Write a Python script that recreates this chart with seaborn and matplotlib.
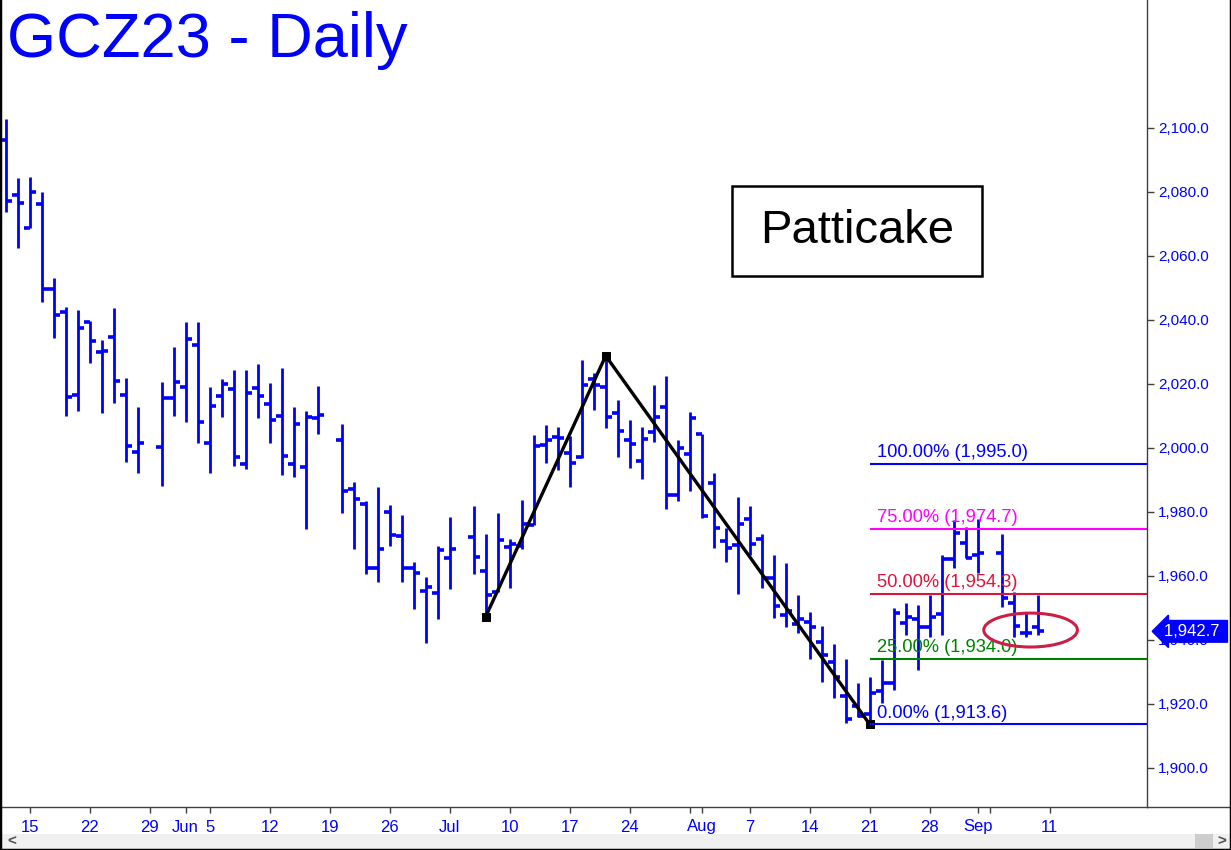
import numpy as np
import pandas as pd
import seaborn as sns
import matplotlib.pyplot as plt
from matplotlib.patches import Ellipse, Rectangle
from matplotlib.lines import Line2D
from matplotlib.transforms import blended_transform_factory

sns.set_theme(style="white")
plt.rcParams["font.family"] = ["Liberation Sans", "DejaVu Sans"]

BLUE = "#0000FF"

# daily OHLC, GCZ23, May 11 - Sep 8 2023 (holidays have no bar)
holidays = ["2023-05-29", "2023-06-19", "2023-07-04", "2023-09-04"]
opens = [2096.3, 2079.1, 2068.6, 2076.1, 2049.6, 2042.5, 2016.5, 2039.4, 2029.9, 2034.6, 2016.5, 1998.8,
         2000.2, 2015.5, 2019.0, 2032.1, 2001.5, 2016.3, 2018.4, 1995.0, 2018.8, 2013.8, 2010.0, 1994.9,
         1994.1, 2009.3, 2002.5, 1987.2, 1982.6, 1962.4, 1980.0, 1972.5, 1962.4, 1955.2, 1954.6, 1965.5,
         1972.1, 1961.6, 1954.9, 1969.0, 1969.4, 1976.0, 2000.9, 2003.5, 1998.3, 1997.3, 2021.5, 2019.2,
         2011.0, 2002.5, 1995.9, 2005.1, 2012.8, 1985.3, 1998.1, 2004.4, 1989.2, 1970.9, 1969.7, 1977.8,
         1971.5, 1959.4, 1947.8, 1944.9, 1945.5, 1939.3, 1933.0, 1922.5, 1919.4, 1917.0, 1924.1, 1926.7,
         1945.2, 1946.5, 1944.2, 1948.1, 1965.3, 1970.4, 1966.6, 1967.1, 1951.5, 1942.3, 1944.0]
highs = [2102.7, 2084.3, 2084.6, 2079.9, 2053.0, 2044.0, 2043.1, 2039.6, 2033.8, 2043.6, 2021.8, 2012.7,
         2020.5, 2031.5, 2039.4, 2039.4, 2019.0, 2021.5, 2024.4, 2024.4, 2026.3, 2020.2, 2024.9, 2012.7,
         2011.5, 2019.4, 2007.4, 1989.3, 1983.5, 1987.7, 1982.1, 1979.1, 1964.3, 1959.6, 1969.5, 1978.3,
         1981.9, 1973.1, 1979.6, 1971.5, 1983.8, 2004.1, 2007.2, 2006.5, 2003.8, 2027.5, 2023.5, 2028.8,
         2015.0, 2008.7, 2006.5, 2019.7, 2022.5, 2002.5, 2011.3, 2004.4, 1992.3, 1974.9, 1984.6, 1982.0,
         1973.0, 1966.4, 1964.0, 1953.9, 1948.6, 1944.5, 1938.7, 1934.0, 1926.7, 1928.3, 1933.8, 1949.9,
         1951.5, 1951.0, 1954.1, 1966.6, 1977.5, 1975.2, 1977.7, 1973.1, 1954.9, 1948.3, 1954.1]
lows = [2073.8, 2062.4, 2068.6, 2045.7, 2034.5, 2010.1, 2011.7, 2026.5, 2011.0, 2014.2, 1995.7, 1992.3,
        1988.1, 2010.1, 2008.2, 2001.7, 1992.3, 2009.8, 1994.5, 1993.5, 2009.5, 2001.7, 1991.4, 1991.0,
        1974.6, 2004.3, 1979.6, 1968.3, 1960.5, 1958.2, 1969.5, 1958.2, 1949.6, 1939.0, 1946.5, 1955.8,
        1960.5, 1947.3, 1954.9, 1956.2, 1968.3, 1976.0, 1995.2, 1993.1, 1987.7, 1997.0, 2011.9, 2006.1,
        1997.3, 1993.6, 1990.2, 2001.8, 1980.8, 1983.5, 1986.4, 1978.0, 1968.6, 1964.3, 1954.3, 1966.6,
        1956.2, 1946.8, 1944.2, 1942.3, 1934.1, 1927.0, 1921.8, 1914.2, 1915.8, 1913.6, 1920.2, 1924.4,
        1941.6, 1930.6, 1941.0, 1941.6, 1962.4, 1965.5, 1960.8, 1950.4, 1941.0, 1941.0, 1941.5]
closes = [2077.2, 2076.5, 2080.0, 2049.6, 2041.5, 2015.8, 2037.4, 2033.4, 2030.3, 2020.9, 2000.5, 2001.5,
          2015.5, 2020.5, 2034.0, 2008.0, 2013.1, 2019.9, 1997.2, 2017.1, 2016.3, 2008.6, 1997.4, 2007.5,
          2009.6, 2010.3, 1986.4, 1984.0, 1962.4, 1968.3, 1972.8, 1962.4, 1960.8, 1956.5, 1968.1, 1968.4,
          1965.8, 1954.0, 1971.3, 1970.0, 1976.2, 2000.6, 2002.5, 2003.0, 1995.2, 2019.7, 2019.7, 2009.8,
          2005.4, 2001.1, 2002.8, 2009.6, 1985.3, 1999.9, 2009.3, 1978.8, 1974.9, 1968.6, 1976.3, 1970.0,
          1959.5, 1950.6, 1949.2, 1946.5, 1944.1, 1935.3, 1928.3, 1915.2, 1916.3, 1923.5, 1926.7, 1948.3,
          1947.3, 1944.2, 1947.1, 1965.3, 1973.3, 1965.7, 1967.3, 1953.0, 1944.4, 1942.3, 1942.7]

# ABC swing points and the projection levels
swing_dates = ["2023-07-06", "2023-07-20", "2023-08-21"]
swing_prices = [1947.3, 2028.8, 1913.6]
fib_pcts = [100, 75, 50, 25, 0]
fib_values = [1995.0, 1974.7, 1954.3, 1934.0, 1913.6]
fib_colors = ["#0000FF", "#FF00FF", "#DC143C", "#008000", "#0000FF"]
last_price = 1942.7

tick_dates = ["2023-05-15", "2023-05-22", "2023-05-29", "2023-06-01", "2023-06-05", "2023-06-12",
              "2023-06-19", "2023-06-26", "2023-07-03", "2023-07-10", "2023-07-17", "2023-07-24",
              "2023-07-31", "2023-08-01", "2023-08-07", "2023-08-14", "2023-08-21", "2023-08-28",
              "2023-09-01", "2023-09-04", "2023-09-11"]
tick_labels = ["15", "22", "29", "Jun", "5", "12", "19", "26", "Jul", "10", "17", "24",
               "", "Aug", "7", "14", "21", "28", "Sep", "", "11"]

# every weekday gets a slot on the x axis
weekdays = pd.bdate_range("2023-05-11", "2023-09-22")
slot = pd.Series(np.arange(len(weekdays)), index=weekdays)
days = weekdays[(weekdays <= "2023-09-08") & ~weekdays.isin(pd.to_datetime(holidays))]

df = pd.DataFrame({"date": days, "open": opens, "high": highs, "low": lows, "close": closes})
df["x"] = slot[df["date"]].values

fig = plt.figure(figsize=(12.31, 8.5), dpi=100)
ax = fig.add_axes([0, 43 / 850, 1147 / 1231, 807 / 850])
ax.set_xlim(-0.47, 95.1)
ax.set_ylim(1887.8, 2140.0)

# OHLC bars
ax.vlines(df["x"], df["low"], df["high"], color=BLUE, lw=2.0)
ax.hlines(df["open"], df["x"] - 0.5, df["x"], color=BLUE, lw=2.6)
ax.hlines(df["close"], df["x"], df["x"] + 0.5, color=BLUE, lw=2.6)

# zigzag
zz = pd.DataFrame({"x": slot[pd.to_datetime(swing_dates)].values, "y": swing_prices})
sns.lineplot(data=zz, x="x", y="y", color="black", lw=2.4, marker="s", markersize=6,
             markeredgecolor="black", ax=ax)

# projection lines
x0 = zz["x"].iloc[-1]
for p, v, c in zip(fib_pcts, fib_values, fib_colors):
    ax.hlines(v, x0, 95.1, color=c, lw=1.5)
    ax.annotate(f"{p:.2f}% ({v:,.1f})", (x0 + 0.6, v), xytext=(0, 2), textcoords="offset points",
                color=c, fontsize=13.2, va="bottom", ha="left")

ax.add_patch(Ellipse((85.4, 1943.1), 7.8, 10.6, fill=False, ec="#CC1F45", lw=2.2, zorder=5))

# axes look
ax.set_xlabel("")
ax.set_ylabel("")
ax.yaxis.tick_right()
ax.set_yticks(range(1900, 2101, 20))
ax.set_yticklabels([f"{v:,.1f}" for v in range(1900, 2101, 20)])
ax.set_xticks(slot[pd.to_datetime(tick_dates)].values)
ax.set_xticklabels(tick_labels)
ax.tick_params(axis="y", right=True, left=False, colors="#404040", labelcolor=BLUE,
               length=5, width=1, labelsize=11, pad=3, direction="out")
ax.tick_params(axis="x", bottom=True, colors="#404040", labelcolor=BLUE,
               length=4, width=1, labelsize=12, pad=5, direction="out")
for s in ["left", "top"]:
    ax.spines[s].set_visible(False)
for s in ["right", "bottom"]:
    ax.spines[s].set_color("#404040")
    ax.spines[s].set_linewidth(1)
fig.add_artist(Line2D([1147 / 1231, 1], [43 / 850, 43 / 850], color="#404040", lw=1))

# last price tag
tr = blended_transform_factory(ax.transAxes, ax.transData)
ax.text(1.0 + 17 / 1147, last_price, f"{last_price:,.1f} ", transform=tr, color="white", fontsize=12,
        va="center", ha="left", clip_on=False, zorder=6,
        bbox=dict(boxstyle="larrow,pad=0.2", fc=BLUE, ec=BLUE))

# title and label box
fig.text(7 / 1231, 1 - 11 / 850, "GCZ23 - Daily", color=BLUE, fontsize=45.5, va="top", ha="left")
ax.add_patch(Rectangle((732 / 1147, (807 - 276) / 807), 250 / 1147, 90 / 807, transform=ax.transAxes,
                       fill=False, ec="black", lw=1.8))
ax.text(857 / 1147, (807 - 231) / 807, "Patticake", transform=ax.transAxes, fontsize=34,
        ha="center", va="center", color="black")

# scroll bar strip and frame
fig.add_artist(Rectangle((0, 0), 1, 16 / 850, transform=fig.transFigure, fc="#F0F0F0", ec="none"))
fig.add_artist(Rectangle((1195 / 1231, 2 / 850), 18 / 1231, 14 / 850, transform=fig.transFigure,
                         fc="#CDCDCD", ec="none"))
fig.text(7 / 1231, 8 / 850, "<", fontsize=11, color="#505050", va="center", weight="bold")
fig.text(1217 / 1231, 8 / 850, ">", fontsize=11, color="#505050", va="center", weight="bold")
for xs, ys in [([0, 0], [0, 1]), ([1, 1], [0, 1]), ([0, 1], [0, 0])]:
    fig.add_artist(Line2D(xs, ys, color="black", lw=2.5))

fig.savefig("out.png", dpi=100)
